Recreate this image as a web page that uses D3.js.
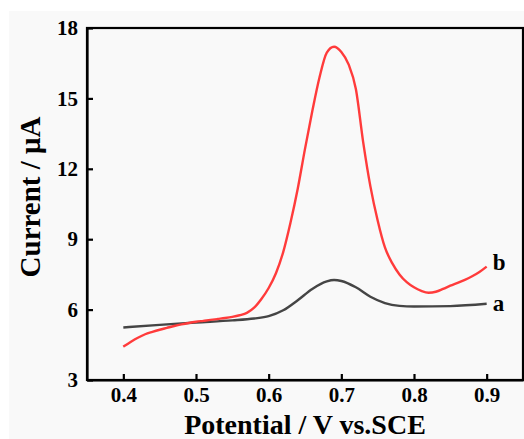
<!DOCTYPE html>
<html>
<head>
<meta charset="utf-8">
<script src="https://cdn.jsdelivr.net/npm/d3@7/dist/d3.min.js"></script>
<style>
  html, body { margin: 0; padding: 0; background: #ffffff; }
  svg { display: block; }
  text { font-family: "Liberation Serif", "Times New Roman", serif; font-weight: bold; fill: #000; }
</style>
</head>
<body>
<svg id="chart" width="524" height="439"></svg>
<script>
// Potential (V vs. SCE) and current (µA) for the two DPV scans
const potentialA = [0.40, 0.45, 0.50, 0.55, 0.58, 0.60, 0.62, 0.64, 0.66, 0.68, 0.69, 0.70, 0.72, 0.74, 0.76, 0.78, 0.80, 0.85, 0.90];
const currentA   = [5.24, 5.35, 5.45, 5.54, 5.62, 5.72, 5.97, 6.40, 6.88, 7.20, 7.26, 7.22, 6.95, 6.55, 6.28, 6.16, 6.13, 6.15, 6.25];

const potentialB = [0.40, 0.41, 0.42, 0.43, 0.44, 0.45, 0.46, 0.47, 0.48, 0.49, 0.50, 0.51, 0.52, 0.53, 0.54, 0.55, 0.56, 0.57, 0.58, 0.59,
                    0.60, 0.61, 0.62, 0.63, 0.64, 0.65, 0.66, 0.67, 0.68, 0.69, 0.70, 0.71, 0.72, 0.73, 0.74, 0.75, 0.76, 0.77, 0.78, 0.79,
                    0.80, 0.81, 0.82, 0.83, 0.84, 0.85, 0.86, 0.87, 0.88, 0.89, 0.90];
const currentB   = [4.42, 4.62, 4.80, 4.95, 5.05, 5.14, 5.22, 5.30, 5.37, 5.43, 5.48, 5.52, 5.56, 5.60, 5.64, 5.69, 5.76, 5.86, 6.08, 6.45,
                    6.92, 7.55, 8.45, 9.70, 11.15, 12.85, 14.45, 15.90, 16.95, 17.20, 16.98, 16.45, 15.40, 13.15, 11.25, 9.80, 8.65, 7.98, 7.50, 7.17,
                    6.95, 6.80, 6.72, 6.76, 6.88, 7.02, 7.14, 7.27, 7.42, 7.60, 7.83];

const xTicks = [0.4, 0.5, 0.6, 0.7, 0.8, 0.9];
const yTicks = [3, 6, 9, 12, 15, 18];
const seriesLabels = ["a", "b"];

const svg = d3.select("#chart");
const W = 524, H = 439;
const m = { left: 87, right: 1, top: 28, bottom: 59 };

// light panel behind the figure
svg.append("rect").attr("x", 9).attr("y", 11).attr("width", W - 9).attr("height", H - 11).attr("fill", "#f9f9f9");

const x = d3.scaleLinear().domain([0.35, 0.95]).range([m.left, W - m.right]);
const y = d3.scaleLinear().domain([3, 18]).range([H - m.bottom, m.top]);

// frame
svg.append("rect")
  .attr("x", x(0.35)).attr("y", y(18))
  .attr("width", x(0.95) - x(0.35)).attr("height", y(3) - y(18))
  .attr("fill", "none").attr("stroke", "#000").attr("stroke-width", 2.2);

const xAxis = svg.append("g")
  .attr("transform", `translate(0,${y(3)})`)
  .call(d3.axisBottom(x).tickValues(xTicks).tickSizeInner(-6).tickSizeOuter(0).tickPadding(7).tickFormat(d3.format(".1f")));
const yAxis = svg.append("g")
  .attr("transform", `translate(${x(0.35)},0)`)
  .call(d3.axisLeft(y).tickValues(yTicks).tickSizeInner(-6).tickSizeOuter(0).tickPadding(9));

[xAxis, yAxis].forEach(g => {
  g.select(".domain").attr("stroke", "#000").attr("stroke-width", 2.2);
  g.selectAll(".tick line").attr("stroke", "#000").attr("stroke-width", 2.2);
  g.selectAll(".tick text")
    .style("font-family", '"Liberation Serif", "Times New Roman", serif')
    .style("font-weight", "bold").style("font-size", "21px").attr("fill", "#000");
});

const line = d3.line().x(d => x(d[0])).y(d => y(d[1])).curve(d3.curveMonotoneX);

svg.append("path")
  .datum(d3.zip(potentialA, currentA))
  .attr("fill", "none").attr("stroke", "#454545").attr("stroke-width", 2.4)
  .attr("d", line);

svg.append("path")
  .datum(d3.zip(potentialB, currentB))
  .attr("fill", "none").attr("stroke", "#ff3b3b").attr("stroke-width", 2.4)
  .attr("d", line);

// curve labels at the right end of each scan
const lastA = currentA[currentA.length - 1], lastB = currentB[currentB.length - 1];
svg.append("text").attr("x", x(0.9) + 6).attr("y", y(lastA) + 7)
  .style("font-size", "23px").text(seriesLabels[0]);
svg.append("text").attr("x", x(0.9) + 6).attr("y", y(lastB) + 3)
  .style("font-size", "23px").text(seriesLabels[1]);

// axis titles
svg.append("text")
  .attr("x", 305).attr("y", 434)
  .attr("text-anchor", "middle").style("font-size", "28px")
  .text("Potential / V vs.SCE");

svg.append("text")
  .attr("transform", `translate(40,197) rotate(-90)`)
  .attr("text-anchor", "middle").style("font-size", "29px")
  .text("Current / μA");
</script>
</body>
</html>
